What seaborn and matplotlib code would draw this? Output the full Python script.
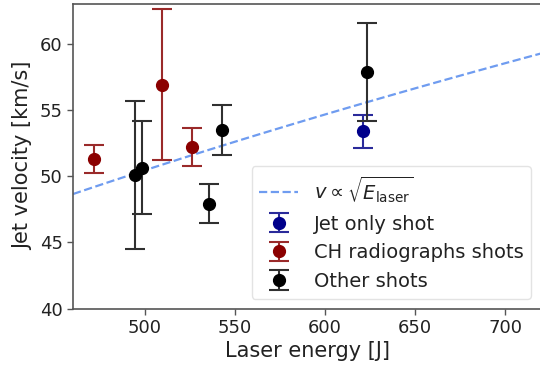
import numpy as np
import matplotlib
matplotlib.use("Agg")
import matplotlib.pyplot as plt
import seaborn as sns
import pandas as pd

sns.set_theme(style="white")
plt.rcParams['font.family'] = ['DejaVu Sans']
plt.rcParams['mathtext.fontset'] = 'dejavusans'

# Data
jet_E = [620.9]
jet_v = [53.4]
jet_err = [1.25]

ch_E = [471.4, 509.6, 526.1]
ch_v = [51.3, 56.9, 52.2]
ch_err = [1.05, 5.7, 1.4]

other_E = [494.4, 498.1, 535.5, 543.0, 623.4]
other_v = [50.1, 50.65, 47.9, 53.5, 57.85]
other_err = [5.6, 3.5, 1.47, 1.9, 3.7]

# model curve v = a*sqrt(E) + b
model_a = 1.972
model_b = 6.35
model_E = np.linspace(460, 720, 60)

fig = plt.figure(figsize=(5.4, 3.68), dpi=100)
ax = fig.add_axes([73/540, 1 - 308.5/368, (541 - 73)/540, (308.5 - 4)/368])

df_line = pd.DataFrame({"E": model_E, "v": model_a*np.sqrt(model_E) + model_b})
sns.lineplot(data=df_line, x="E", y="v", ax=ax, color="#6f9cf0", linestyle="--",
             linewidth=1.6, label=r"$v \propto \sqrt{E_{\mathrm{laser}}}$")

ekw = dict(fmt="o", markersize=8.5, capsize=7, elinewidth=1.5, capthick=1.5)
ax.errorbar(jet_E, jet_v, yerr=jet_err, color="#00008b", ecolor="#2a2a9a",
            label="Jet only shot", **ekw)
ax.errorbar(ch_E, ch_v, yerr=ch_err, color="#8b0000", ecolor="#9a2a2a",
            label="CH radiographs shots", **ekw)
ax.errorbar(other_E, other_v, yerr=other_err, color="black", ecolor="#303030",
            label="Other shots", **ekw)

ax.set_xlim(460, 720)
ax.set_ylim(40, 63)
ax.set_xticks([500, 550, 600, 650, 700])
ax.set_yticks([40, 45, 50, 55, 60])
ax.tick_params(axis="both", labelsize=13, direction="out", length=4, width=1,
               color="#555555", labelcolor="#222222", bottom=True, left=True)
ax.set_xlabel("Laser energy [J]", fontsize=15, color="#222222", labelpad=3)
ax.set_ylabel("Jet velocity [km/s]", fontsize=15, color="#222222", labelpad=5)
for s in ax.spines.values():
    s.set_color("#555555")
    s.set_linewidth(1.2)

leg = ax.legend(loc="lower right", fontsize=14, frameon=True, fancybox=True)
leg.get_frame().set_edgecolor("#dddddd")
for t in leg.get_texts():
    t.set_color("#222222")

fig.savefig("out.png", dpi=100)
